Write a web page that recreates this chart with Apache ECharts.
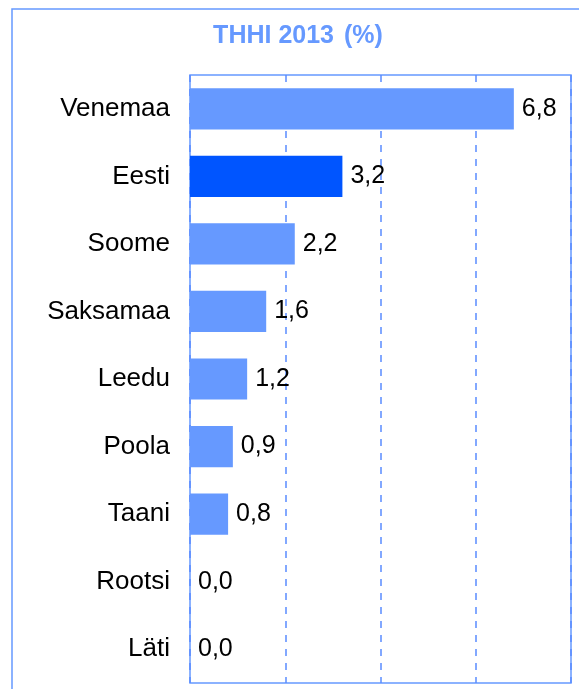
<!DOCTYPE html>
<html>
<head>
<meta charset="utf-8">
<script src="https://cdn.jsdelivr.net/npm/echarts@6/dist/echarts.min.js"></script>
<style>
  html, body { margin: 0; padding: 0; background: #fff; }
  #main { width: 579px; height: 689px; }
</style>
</head>
<body>
<div id="main"></div>
<script>
// andmed
const countries = ['Venemaa', 'Eesti', 'Soome', 'Saksamaa', 'Leedu', 'Poola', 'Taani', 'Rootsi', 'Läti'];
const values = [6.8, 3.2, 2.2, 1.6, 1.2, 0.9, 0.8, 0.0, 0.0];
const highlight = 'Eesti';

const barColor = '#6699ff';
const hiColor = '#0055ff';

const chart = echarts.init(document.getElementById('main'), null, { renderer: 'canvas' });

chart.setOption({
    animation: false,
    textStyle: { fontFamily: 'Liberation Sans, Arial, sans-serif' },
    title: {
        text: '{b|THHI 2013}  {n|(%)}',
        left: 293,
        textAlign: 'center',
        top: 19,
        textStyle: {
            rich: {
                b: { fontSize: 25, fontWeight: 'bold', color: barColor, fontFamily: 'Liberation Sans' },
                n: { fontSize: 25, color: barColor, fontFamily: 'Liberation Sans' }
            }
        }
    },
    graphic: [{
        type: 'rect',
        shape: { x: 12, y: 9, width: 600, height: 720 },
        style: { fill: 'none', stroke: barColor, lineWidth: 1.5 },
        silent: true
    }],
    grid: {
        left: 190, top: 75, width: 381, height: 608,
        show: true, borderColor: barColor, borderWidth: 1.5,
        containLabel: false
    },
    xAxis: {
        type: 'value',
        min: 0, max: 8, interval: 2,
        axisLabel: { show: false },
        axisLine: { show: false },
        axisTick: { show: false },
        splitLine: { lineStyle: { color: '#5a8cff', type: [7, 7], width: 1.5 } }
    },
    yAxis: {
        type: 'category',
        inverse: true,
        data: countries,
        axisLine: { show: false },
        axisTick: { show: false },
        axisLabel: { fontSize: 26, color: '#000', margin: 20, fontFamily: 'Liberation Sans' }
    },
    series: [{
        type: 'bar',
        barCategoryGap: '39%',
        data: values.map((v, i) => ({
            value: v,
            itemStyle: { color: countries[i] === highlight ? hiColor : barColor }
        })),
        label: {
            show: true,
            position: 'right',
            distance: 8,
            fontSize: 25,
            color: '#000',
            fontFamily: 'Liberation Sans',
            formatter: p => p.value.toFixed(1).replace('.', ',')
        }
    }]
});
</script>
</body>
</html>
